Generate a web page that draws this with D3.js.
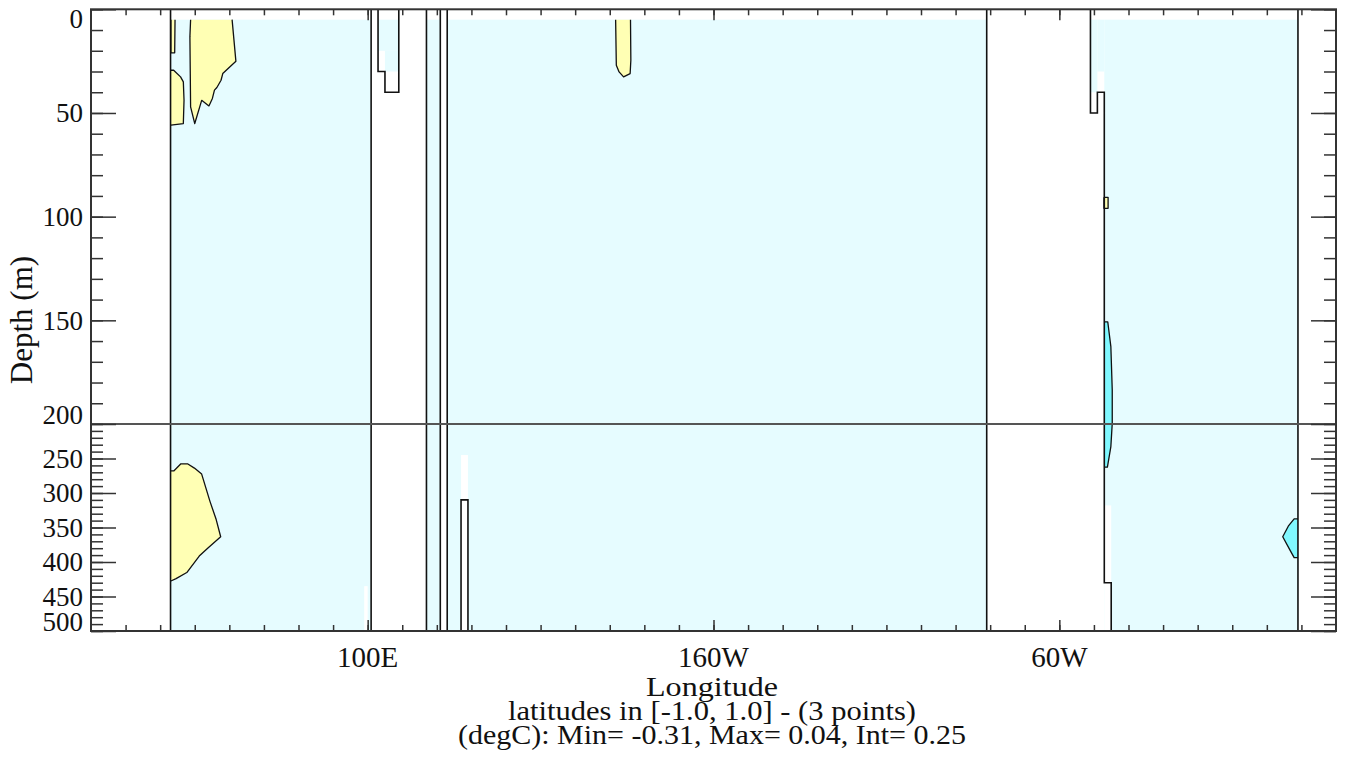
<!DOCTYPE html>
<html><head><meta charset="utf-8">
<script src="https://cdn.jsdelivr.net/npm/d3@7"></script>
<style>
body{margin:0;background:#fff}
svg{display:block}
</style>
</head><body>
<svg id="chart" width="1347" height="762"></svg>
<script>
// ---------------- data ----------------
const lonDomain = [20, 380];                 // degrees east (380 = 20E wrapped)
const depthBreaks = [0, 200, 500];           // two stacked depth panels
const xMajorTicks = [100, 200, 300];
const xTickLabels = ["100E", "160W", "60W"];
const xMinorTicks = d3.range(30, 380, 10);
const yMajorTicks = [0, 50, 100, 150, 200, 250, 300, 350, 400, 450, 500];
const yMinorTicks = d3.range(0, 501, 10);

// ocean cells (lon0, lon1, depth0, depth1) where the field is defined
const oceanCells = [
  [43, 101, 5, 500], [103, 109, 5, 20], [105, 109, 20, 30], [117, 121, 5, 500],
  [123, 279, 5, 500], [309, 311, 5, 40], [311, 313, 5, 30], [313, 369, 5, 500]
];
// undefined (unfilled) cells inside ocean
const fillGaps = [[99, 100, 435, 500], [127, 129, 245, 500], [313, 315, 318, 500]];
// land/sea mask outlines
const coastLines = [
  [[43, 0], [43, 500]],
  [[101, 0], [101, 500]],
  [[103, 0], [103, 30], [105, 30], [105, 40], [109, 40], [109, 0]],
  [[117, 0], [117, 500]],
  [[121, 0], [121, 500]],
  [[123, 0], [123, 500]],
  [[127, 500], [127, 310], [129, 310], [129, 500]],
  [[279, 0], [279, 500]],
  [[309, 0], [309, 50], [311, 50], [311, 40], [313, 40], [313, 430], [315, 430], [315, 500]],
  [[369, 0], [369, 500]]
];
// contour areas: values 0 .. 0.25 degC
const positiveAreas = [
  [[44.3, 5], [44.2, 21], [43.1, 21], [43.1, 5]],
  [[43.1, 29.4], [43.9, 29.4], [45.9, 32.6], [46.7, 35], [46.9, 43.9], [46.7, 55.1], [43.1, 55.9]],
  [[48.8, 5], [48.6, 13.3], [48.8, 47.1], [50.0, 55.1], [52.0, 43.9], [54.1, 46.6], [55.1, 43.0],
   [55.7, 39.0], [56.4, 37.7], [57.6, 34.2], [58.1, 31.0], [61.9, 25.1], [60.8, 5]],
  [[171.7, 5], [171.9, 27], [172.7, 30.2], [174.0, 32.6], [175.9, 31.0], [176.1, 24.6], [176.0, 5]],
  [[312.9, 90.7], [314.1, 90.7], [314.1, 96.0], [312.9, 96.0], [312.9, 90.7]],
  [[43.1, 267.8], [44.0, 267.8], [46.0, 257.7], [47.9, 257.7], [49.9, 263.9], [52.0, 272.6], [54.4, 312.1],
   [56.2, 338.5], [57.5, 363.4], [53.9, 379.3], [51.3, 391.4], [47.7, 415.3], [44.6, 424.0], [43.1, 427.5]]
];
// contour areas: values below -0.25 degC
const negativeAreas = [
  [[313, 150.7], [314.0, 150.7], [314.9, 162.7], [315.3, 183.6], [315.3, 199.7], [314.9, 232.7],
   [313.9, 262.5], [313, 262.5]],
  [[369, 337.4], [367.9, 337.4], [366.2, 348.1], [364.6, 363.4], [366.7, 382.8], [367.9, 393.7], [369, 393.7]]
];
const xTitle = "Longitude";
const subTitles = ["latitudes in [-1.0, 1.0] - (3 points)", "(degC): Min= -0.31, Max= 0.04, Int= 0.25"];
const yTitle = "Depth (m)";

// ---------------- layout ----------------
const L = 91, R = 1336, T = 9.3, B = 631, MID = 424;
const colOcean = "#e6fcff", colPos = "#ffffb4", colNeg = "#80f8ff", colAxis = "#333";
const FONT = "Liberation Serif, DejaVu Serif, Noto Serif, Times New Roman, Times, FreeSerif, Nimbus Roman, serif";

const x = d3.scaleLinear().domain(lonDomain).range([L, R]);
const y = d3.scaleLinear().domain(depthBreaks).range([T, MID, B]);
const line = d3.line().x(d => x(d[0])).y(d => y(d[1]));

const svg = d3.select("#chart");

// ocean background
svg.append("g").selectAll("rect").data(oceanCells).join("rect")
  .attr("x", d => x(d[0])).attr("y", d => y(d[2]))
  .attr("width", d => x(d[1]) - x(d[0])).attr("height", d => y(d[3]) - y(d[2]))
  .attr("fill", colOcean);
svg.append("g").selectAll("rect").data(fillGaps).join("rect")
  .attr("x", d => x(d[0])).attr("y", d => y(d[2]))
  .attr("width", d => x(d[1]) - x(d[0])).attr("height", d => y(d[3]) - y(d[2]))
  .attr("fill", "#fff");

// contour areas
function drawAreas(data, color) {
  const g = svg.append("g");
  g.selectAll("path.f").data(data).join("path").attr("class", "f")
    .attr("d", d => line(d) + "Z").attr("fill", color).attr("stroke", "none");
  g.selectAll("path.s").data(data).join("path").attr("class", "s")
    .attr("d", d => line(d)).attr("fill", "none").attr("stroke", "#111")
    .attr("stroke-width", 1.3).attr("stroke-linejoin", "round");
}
drawAreas(positiveAreas, colPos);
drawAreas(negativeAreas, colNeg);

// coastlines
svg.append("g").selectAll("path").data(coastLines).join("path")
  .attr("d", d => line(d)).attr("fill", "none").attr("stroke", "#111").attr("stroke-width", 1.6);

// panel divider
svg.append("line").attr("x1", L).attr("x2", R).attr("y1", y(200)).attr("y2", y(200))
  .attr("stroke", "#555").attr("stroke-width", 2);

// axes ticks
function styleAxis(g) {
  g.select(".domain").remove();
  g.selectAll("line").attr("stroke", colAxis).attr("stroke-width", 1.5);
}
svg.append("g").attr("transform", `translate(0,${T})`)
  .call(d3.axisTop(x).tickValues(xMinorTicks).tickSize(-6).tickFormat("")).call(styleAxis);
svg.append("g").attr("transform", `translate(0,${T})`)
  .call(d3.axisTop(x).tickValues(xMajorTicks).tickSize(-11).tickFormat("")).call(styleAxis);
svg.append("g").attr("transform", `translate(0,${B})`)
  .call(d3.axisBottom(x).tickValues(xMinorTicks).tickSize(-6).tickFormat("")).call(styleAxis);
svg.append("g").attr("transform", `translate(0,${B})`)
  .call(d3.axisBottom(x).tickValues(xMajorTicks).tickSize(-11).tickFormat("")).call(styleAxis);
svg.append("g").attr("transform", `translate(${L},0)`)
  .call(d3.axisLeft(y).tickValues(yMinorTicks).tickSize(-12).tickFormat("")).call(styleAxis);
svg.append("g").attr("transform", `translate(${L},0)`)
  .call(d3.axisLeft(y).tickValues(yMajorTicks).tickSize(-25).tickFormat("")).call(styleAxis);
svg.append("g").attr("transform", `translate(${R},0)`)
  .call(d3.axisRight(y).tickValues(yMinorTicks).tickSize(-12).tickFormat("")).call(styleAxis);
svg.append("g").attr("transform", `translate(${R},0)`)
  .call(d3.axisRight(y).tickValues(yMajorTicks).tickSize(-25).tickFormat("")).call(styleAxis);

// frame
svg.append("rect").attr("x", L).attr("y", T).attr("width", R - L).attr("height", B - T)
  .attr("fill", "none").attr("stroke", colAxis).attr("stroke-width", 2);

// tick labels
svg.append("g").selectAll("text").data(xMajorTicks).join("text")
  .attr("font-family", FONT).attr("fill", "#111")
  .attr("x", d => x(d)).attr("y", 667).attr("text-anchor", "middle")
  .attr("font-size", 29).text((d, i) => xTickLabels[i]);

const half = 9.6;
svg.append("g").selectAll("text").data(yMajorTicks).join("text")
  .attr("font-family", FONT).attr("fill", "#111")
  .attr("x", 83).attr("text-anchor", "end").attr("font-size", 27)
  .attr("y", d => {
    const top = d <= 200 ? T : MID, bot = d <= 200 ? MID : B;
    return Math.max(top + half, Math.min(bot - half, y(d)));
  })
  .attr("dy", "0.34em").text(d => d);

// titles
svg.append("text").attr("font-family", FONT).attr("fill", "#111")
  .attr("x", 712).attr("y", 696).attr("text-anchor", "middle")
  .attr("font-size", 28).attr("textLength", 132).attr("lengthAdjust", "spacingAndGlyphs").text(xTitle);
const subLengths = [408, 508];
svg.append("g").selectAll("text").data(subTitles).join("text")
  .attr("font-family", FONT).attr("fill", "#111")
  .attr("x", 712).attr("y", (d, i) => 720 + i * 24).attr("text-anchor", "middle")
  .attr("font-size", 28).attr("textLength", (d, i) => subLengths[i])
  .attr("lengthAdjust", "spacingAndGlyphs").text(d => d);
svg.append("text").attr("font-family", FONT).attr("fill", "#111")
  .attr("transform", "translate(32,320) rotate(-90)")
  .attr("text-anchor", "middle").attr("font-size", 31).text(yTitle);
</script>
</body></html>
